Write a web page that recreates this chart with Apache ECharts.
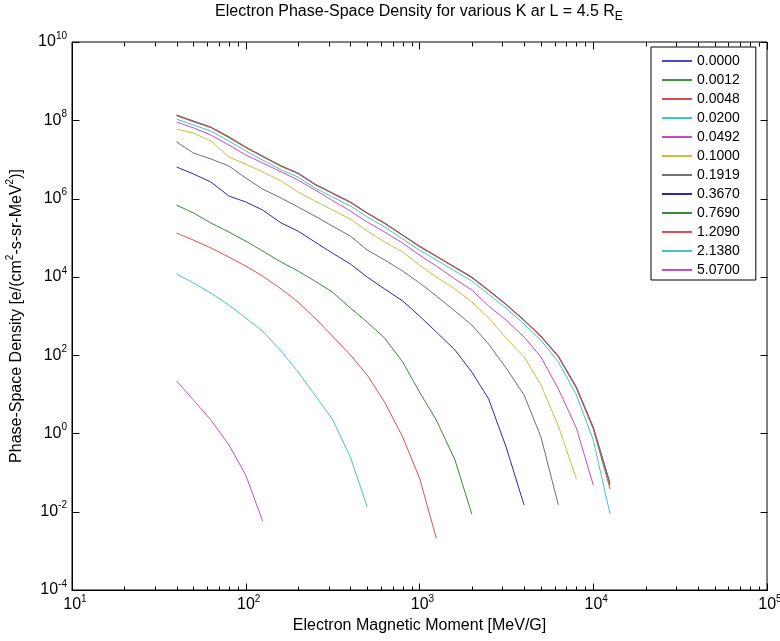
<!DOCTYPE html>
<html><head><meta charset="utf-8">
<script src="https://cdn.jsdelivr.net/npm/echarts@6/dist/echarts.min.js"></script>
<style>html,body{margin:0;padding:0;background:#fff}#c{width:780px;height:641px}</style>
</head><body><div id="c"></div>
<script>
// Electron magnetic moment grid [MeV/G]
const muValues = [40,50,63,80,100,125,160,200,250,315,400,500,630,800,1000,1250,1600,2000,2500,3150,4000,5000,6300,8000,10000,12500];
// K values (legend)
const kLabels = ['0.0000','0.0012','0.0048','0.0200','0.0492','0.1000','0.1919','0.3670','0.7690','1.2090','2.1380','5.0700'];
// Phase-space density per K
const psdK0000 = [1.36e8,9.6e7,6.7e7,3.74e7,2.08e7,1.22e7,6.8e6,4.5e6,2.36e6,1.39e6,8.2e5,4.3e5,2.38e5,1.17e5,6.1e4,3.4e4,1.78e4,9.9e3,4.6e3,2.0e3,790,308,95,15.3,1.46,0.054];
const psdK0012 = [1.34e8,9.4e7,6.6e7,3.8e7,2.05e7,1.2e7,6.9e6,4.4e6,2.3e6,1.38e6,8.1e5,4.25e5,2.36e5,1.16e5,6.0e4,3.35e4,1.75e4,9.7e3,4.5e3,1.97e3,780,300,92,14.8,1.38,0.047];
const psdK0048 = [1.31e8,9.2e7,6.5e7,3.6e7,2.0e7,1.18e7,6.6e6,4.35e6,2.28e6,1.35e6,7.9e5,4.2e5,2.3e5,1.14e5,5.9e4,3.3e4,1.72e4,9.5e3,4.4e3,1.93e3,760,295,90,14.2,1.3,0.038];
const psdK0200 = [1.07e8,7.6e7,5.3e7,2.95e7,1.65e7,9.6e6,5.4e6,3.55e6,1.86e6,1.1e6,6.5e5,3.4e5,1.88e5,9.3e4,4.8e4,2.7e4,1.41e4,7.8e3,3.6e3,1.58e3,620,240,67,9.6,0.68,0.0087];
const psdK0492 = [9.0e7,6.4e7,4.2e7,2.33e7,1.3e7,8.1e6,4.8e6,2.98e6,1.66e6,9.0e5,4.8e5,2.52e5,1.4e5,7.3e4,3.6e4,1.89e4,8.8e3,4.6e3,1.8e3,790,290,90,13.6,1.37,0.048];
const psdK1000 = [6.0e7,4.7e7,2.96e7,1.15e7,7.6e6,4.8e6,2.8e6,1.47e6,8.7e5,5.1e5,3.0e5,1.48e5,7.8e4,4.3e4,2.0e4,9.9e3,4.9e3,2.28e3,890,274,90,17.3,1.55,0.068];
const psdK1919 = [2.79e7,1.46e7,1.03e7,6.8e6,3.35e6,1.75e6,1.03e6,6.1e5,3.58e5,1.99e5,1.1e5,4.85e4,2.7e4,1.41e4,7.0e3,3.24e3,1.34e3,590,192,47,9.6,0.81,0.0148];
const psdK3670 = [6.4e6,4.25e6,2.65e6,1.16e6,8.2e5,5.1e5,2.38e5,1.48e5,7.8e4,4.06e4,2.13e4,9.9e3,4.9e3,2.42e3,1.0e3,390,135,37,7.6,0.45,0.0148];
const psdK7690 = [6.8e5,4.3e5,2.38e5,1.4e5,8.2e4,4.57e4,2.39e4,1.41e4,7.8e3,4.1e3,1.6e3,700,274,67,11.4,2.2,0.21,0.0087];
const psdK12090 = [1.32e5,8.7e4,5.5e4,3.2e4,1.89e4,1.05e4,4.9e3,2.28e3,890,308,101,31,6.3,0.81,0.073,0.0021];
const psdK21380 = [1.18e4,7.0e3,3.86e3,1.9e3,890,413,127,37,9.6,2.33,0.25,0.0132];
const psdK50700 = [21.8,7.1,2.2,0.51,0.086,0.0058];
// Ticks
const xMajorTicks = [10,100,1000,10000,100000];
const xMinorTicks = [20,30,40,50,60,70,80,90,200,300,400,500,600,700,800,900,2000,3000,4000,5000,6000,7000,8000,9000,20000,30000,40000,50000,60000,70000,80000,90000];
const yTicks = [1e-4,1e-2,1,1e2,1e4,1e6,1e8,1e10];
const xRange = [10, 100000];
const yRange = [1e-4, 1e10];

const seriesValues = [psdK0000,psdK0012,psdK0048,psdK0200,psdK0492,psdK1000,psdK1919,psdK3670,psdK7690,psdK12090,psdK21380,psdK50700];
const colors = ['#4848d8','#3a9a3a','#e04848','#40c8c8','#c848c8','#c8c040','#707070','#2a2aa8','#3a8a3a','#e05050','#48c4c4','#c050c8'];
const FONT = 'Liberation Sans, Arial, sans-serif';

const supRich = {
  b: {fontSize: 16, lineHeight: 22, fontFamily: FONT, color: '#000'},
  s: {fontSize: 10, lineHeight: 8, verticalAlign: 'top', fontFamily: FONT, color: '#000'},
  sp: {width: 6}
};
function expOf(v){ return Math.round(Math.log10(v)); }

// tick marks drawn through the axes' own coordinate mapping
function tickSeries(points, dx, dy) {
  return {
    type: 'custom', xAxisIndex: 0, yAxisIndex: 0, silent: true, clip: false, z: 5,
    data: points,
    renderItem: (params, api) => {
      const p = api.coord([api.value(0), api.value(1)]);
      const x = Math.round(p[0]) + 0.5, y = Math.round(p[1]) + 0.5;
      return {type: 'line', shape: {x1: x, y1: y, x2: x + dx, y2: y + dy}, style: {stroke: '#000', lineWidth: 1}};
    }
  };
}

const chart = echarts.init(document.getElementById('c'), null, {renderer: 'canvas'});
const option = {
  backgroundColor: '#fff',
  animation: false,
  title: {
    text: 'Electron Phase-Space Density for various K ar L = 4.5 R{sub|E}',
    left: 419, top: 1, textAlign: 'center', padding: 0,
    textStyle: {fontFamily: FONT, fontSize: 16, fontWeight: 'normal', color: '#000', lineHeight: 22,
      rich: {sub: {fontSize: 12, lineHeight: 12, verticalAlign: 'bottom', fontFamily: FONT, color: '#000'}}}
  },
  legend: {
    data: kLabels, orient: 'vertical', left: 651, top: 47,
    itemWidth: 30, itemHeight: 14, itemGap: 5, padding: [7, 16, 3, 10],
    borderColor: '#000', borderWidth: 1, backgroundColor: '#fff', borderRadius: 0,
    itemStyle: {opacity: 0},
    textStyle: {fontFamily: FONT, fontSize: 14, color: '#000'}
  },
  grid: {left: 72, right: 13, top: 42, bottom: 51, containLabel: false, outerBoundsMode: 'none',
    show: true, borderColor: '#000', borderWidth: 1, backgroundColor: 'transparent'},
  xAxis: {
    type: 'log', logBase: 10, position: 'bottom', min: xRange[0], max: xRange[1],
    splitLine: {show: false}, minorTick: {show: false},
    axisLine: {show: true, lineStyle: {color: '#000', width: 1}},
    axisTick: {show: false},
    axisLabel: {show: true, margin: 4, customValues: xMajorTicks,
      formatter: v => '{sp|}{b|10}{s|' + expOf(v) + '}', rich: supRich},
    name: 'Electron Magnetic Moment [MeV/G]', nameLocation: 'middle', nameGap: 24,
    nameTextStyle: {fontFamily: FONT, fontSize: 16, color: '#000'}
  },
  yAxis: {
    type: 'log', logBase: 10, position: 'left', min: yRange[0], max: yRange[1],
    splitLine: {show: false}, minorTick: {show: false},
    axisLine: {show: true, lineStyle: {color: '#000', width: 1}},
    axisTick: {show: false},
    axisLabel: {show: true, margin: 5, customValues: yTicks,
      formatter: v => '{b|10}{s|' + expOf(v) + '}', rich: supRich},
    name: 'Phase-Space Density [e/(cm{s|2}-s-sr-MeV{s|2})]', nameLocation: 'middle', nameGap: 34, nameRotate: 90,
    nameTextStyle: {fontFamily: FONT, fontSize: 16, color: '#000', lineHeight: 22,
      rich: {s: {fontSize: 10, lineHeight: 8, verticalAlign: 'top', fontFamily: FONT, color: '#000'}}}
  },
  series: kLabels.map((k, i) => ({
    name: k, type: 'line', xAxisIndex: 0, yAxisIndex: 0,
    symbol: 'none', smooth: false, silent: true,
    lineStyle: {width: 1, color: colors[i]}, itemStyle: {color: colors[i]},
    data: seriesValues[i].map((v, j) => [muValues[j], v])
  })).concat([
    tickSeries(xMajorTicks.map(v => [v, yRange[0]]), 0, -7),
    tickSeries(xMinorTicks.map(v => [v, yRange[0]]), 0, -4),
    tickSeries(xMajorTicks.map(v => [v, yRange[1]]), 0, 7),
    tickSeries(xMinorTicks.map(v => [v, yRange[1]]), 0, 4),
    tickSeries(yTicks.map(v => [xRange[0], v]), 7, 0),
    tickSeries(yTicks.map(v => [xRange[1], v]), -7, 0)
  ])
};
chart.setOption(option);
</script></body></html>
